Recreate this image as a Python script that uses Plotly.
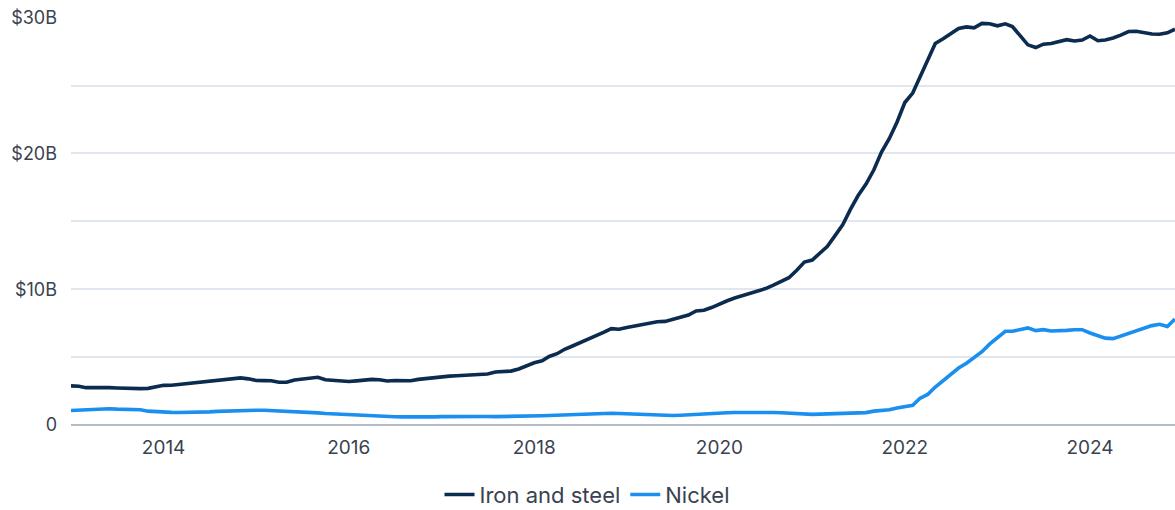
import pandas as pd
import plotly.graph_objects as go

# monthly values, $ billions, Jan 2013 - Dec 2024
months = pd.date_range("2013-01-01", "2024-12-01", freq="MS")

iron_and_steel = [
    2.88, 2.85, 2.75, 2.76, 2.78, 2.75, 2.73, 2.70, 2.67, 2.68, 2.70, 2.80,
    2.92, 2.93, 2.98, 3.08, 3.15, 3.18, 3.22, 3.30, 3.36, 3.42, 3.47, 3.40,
    3.28, 3.27, 3.26, 3.15, 3.15, 3.32, 3.38, 3.42, 3.52, 3.33, 3.28, 3.22,
    3.20, 3.25, 3.30, 3.36, 3.33, 3.24, 3.28, 3.24, 3.26, 3.36, 3.42, 3.50,
    3.60, 3.60, 3.63, 3.66, 3.70, 3.72, 3.76, 3.90, 3.93, 3.97, 4.13, 4.38,
    4.58, 4.73, 5.05, 5.25, 5.58, 5.82, 6.05, 6.32, 6.58, 6.82, 7.10, 7.05,
    7.18, 7.28, 7.40, 7.50, 7.60, 7.63, 7.78, 7.88, 8.10, 8.40, 8.45, 8.65,
    8.92, 9.15, 9.35, 9.52, 9.68, 9.86, 10.05, 10.30, 10.55, 10.85, 11.40, 12.00,
    12.15, 12.65, 13.15, 13.95, 14.75, 15.90, 16.90, 17.75, 18.80, 20.10, 21.10, 22.30,
    23.75, 24.45, 25.60, 26.90, 28.10, 28.45, 28.80, 29.20, 29.32, 29.25, 29.58, 29.55,
    29.40, 29.55, 29.35, 28.70, 28.00, 27.80, 28.05, 28.10, 28.25, 28.38, 28.28, 28.35,
    28.65, 28.30, 28.35, 28.50, 28.72, 28.98, 29.00, 28.90, 28.80, 28.78, 28.88, 29.15,
]

nickel = [
    1.07, 1.10, 1.14, 1.18, 1.21, 1.20, 1.17, 1.15, 1.14, 1.12, 1.02, 0.97,
    0.95, 0.93, 0.92, 0.92, 0.92, 0.94, 0.97, 1.00, 1.03, 1.05, 1.07, 1.09,
    1.09, 1.09, 1.07, 1.05, 1.02, 0.99, 0.96, 0.94, 0.89, 0.85, 0.82, 0.78,
    0.75, 0.71, 0.70, 0.67, 0.66, 0.63, 0.61, 0.60, 0.59, 0.59, 0.58, 0.60,
    0.62, 0.63, 0.64, 0.65, 0.65, 0.64, 0.63, 0.62, 0.62, 0.63, 0.65, 0.66,
    0.67, 0.68, 0.70, 0.72, 0.76, 0.80, 0.82, 0.84, 0.85, 0.86, 0.87, 0.85,
    0.82, 0.79, 0.77, 0.75, 0.73, 0.71, 0.70, 0.72, 0.76, 0.80, 0.83, 0.86,
    0.88, 0.90, 0.92, 0.93, 0.93, 0.92, 0.93, 0.92, 0.90, 0.86, 0.82, 0.78,
    0.78, 0.80, 0.82, 0.84, 0.85, 0.88, 0.88, 0.91, 1.02, 1.06, 1.12, 1.26,
    1.35, 1.45, 1.95, 2.25, 2.80, 3.30, 3.70, 4.20, 4.55, 5.00, 5.40, 5.95,
    6.45, 6.90, 6.90, 7.05, 7.15, 6.95, 7.02, 6.92, 6.92, 6.97, 7.02, 7.02,
    6.78, 6.60, 6.40, 6.36, 6.55, 6.75, 6.95, 7.12, 7.32, 7.42, 7.25, 7.80,
]

y_tickvals = [0, 10, 20, 30]
y_ticktext = ["0", "$10B", "$20B", "$30B"]

FONT = "Inter, Roboto, sans-serif"
TEXT_COLOR = "#3a4250"
GRID_COLOR = "#e1e7ee"

fig = go.Figure()
fig.add_trace(go.Scatter(
    x=months, y=iron_and_steel, mode="lines", name="Iron and steel",
    line=dict(color="#0b2b4f", width=3.6),
))
fig.add_trace(go.Scatter(
    x=months, y=nickel, mode="lines", name="Nickel",
    line=dict(color="#1a8ff0", width=3.6),
))

fig.update_xaxes(
    range=["2013-01-01", "2024-12-01"],
    tick0="2014-01-01", dtick="M24", tickformat="%Y",
    showgrid=False, showline=False, zeroline=False, ticks="",
    ticklabelstandoff=9,
    tickfont=dict(family=FONT, size=19, color=TEXT_COLOR),
)
fig.update_yaxes(
    range=[0, 30.05],
    tickvals=y_tickvals, ticktext=y_ticktext,
    showgrid=True, gridcolor=GRID_COLOR, gridwidth=2,
    minor=dict(dtick=5, tick0=0, showgrid=True, gridcolor=GRID_COLOR, gridwidth=2),
    zeroline=True, zerolinecolor="#b3bcc7", zerolinewidth=2,
    showline=False, ticks="", ticklabelstandoff=13,
    tickfont=dict(family=FONT, size=18, color=TEXT_COLOR),
)
fig.update_layout(
    width=1175, height=510,
    margin=dict(l=71, r=0, t=17, b=85, autoexpand=False),
    plot_bgcolor="white", paper_bgcolor="white",
    showlegend=True,
    legend=dict(
        orientation="h",
        xref="container", x=0.5, xanchor="center",
        yref="container", y=0.03, yanchor="middle",
        font=dict(family=FONT, size=22, color=TEXT_COLOR),
        itemwidth=30, entrywidth=0,
        tracegroupgap=20,
    ),
)

fig.write_html(
    "out.html",
    config={"displayModeBar": False},
    post_script="document.body.style.margin='0px';",
)
